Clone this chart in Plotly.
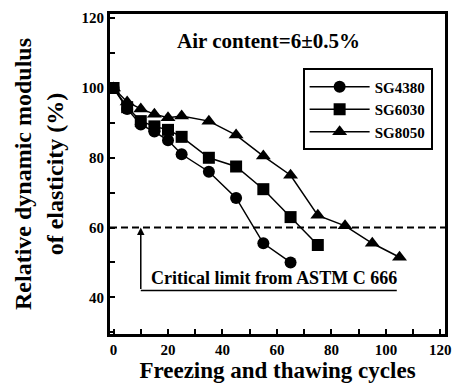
import plotly.graph_objects as go

# Freeze-thaw durability of air-entrained concrete
cycles_4380 = [0, 5, 10, 15, 20, 25, 35, 45, 55, 65]
modulus_4380 = [100, 94, 89.5, 87.5, 85, 81, 76, 68.5, 55.5, 50]

cycles_6030 = [0, 5, 10, 15, 20, 25, 35, 45, 55, 65, 75]
modulus_6030 = [100, 94.5, 90.5, 89, 88, 86, 80, 77.5, 71, 63, 55]

cycles_8050 = [0, 5, 10, 15, 20, 25, 35, 45, 55, 65, 75, 85, 95, 105]
modulus_8050 = [100, 96, 94, 92.5, 91.5, 92, 90.5, 86.5, 80.5, 75, 63.5, 60.5, 55.5, 51.5]

critical_limit = 60
x_ticks = [0, 20, 40, 60, 80, 100, 120]
y_ticks = [40, 60, 80, 100, 120]

SERIF = "Liberation Serif"

fig = go.Figure()

series = [
    ("SG4380", cycles_4380, modulus_4380, "circle", 12),
    ("SG6030", cycles_6030, modulus_6030, "square", 12),
    ("SG8050", cycles_8050, modulus_8050, "triangle-up", 13),
]
for name, xs, ys, sym, size in series:
    fig.add_trace(go.Scatter(
        x=xs, y=ys, name=f"<b>{name}</b>", mode="lines+markers",
        line=dict(color="black", width=1.5),
        marker=dict(symbol=sym, size=size, color="black"),
    ))

# Critical limit (dashed) across the whole plot
fig.add_shape(type="line", xref="paper", yref="y", x0=0, x1=1,
              y0=critical_limit, y1=critical_limit,
              line=dict(color="black", width=2, dash="7px,4px"))

# Bracket with arrow pointing to the critical limit
fig.add_shape(type="line", xref="x", yref="y", x0=10, x1=104, y0=42, y1=42,
              line=dict(color="black", width=1.5))
fig.add_annotation(x=10, y=critical_limit, ax=10, ay=42, xref="x", yref="y",
                   axref="x", ayref="y", showarrow=True, arrowhead=2,
                   arrowsize=1, arrowwidth=1.5, arrowcolor="black", text="")
fig.add_annotation(x=59, y=42.2, xref="x", yref="y", yanchor="bottom",
                   text="<b>Critical limit from ASTM C 666</b>", showarrow=False,
                   font=dict(family=SERIF, size=18, color="black"))

fig.add_annotation(x=57, y=113.5, xref="x", yref="y",
                   text="<b>Air content=6±0.5%</b>", showarrow=False,
                   font=dict(family=SERIF, size=21, color="black"))

axis_common = dict(
    showline=True, linewidth=3, linecolor="black", mirror=True,
    ticks="inside", ticklen=5, tickwidth=2, tickcolor="black",
    showgrid=False, zeroline=False,
    tickfont=dict(family=SERIF, size=15, color="black", weight="bold"),
)

fig.update_xaxes(
    range=[-1.3, 121.7], tickvals=x_ticks, ticktext=[f"<b>{v}</b>" for v in x_ticks],
    minor=dict(dtick=10, tick0=0, ticks="inside", ticklen=5, tickwidth=2, tickcolor="black"),
    title=dict(text="<b>Freezing and thawing cycles</b>",
               font=dict(family=SERIF, size=23, color="black"), standoff=4),
    **axis_common,
)
fig.update_yaxes(
    range=[29.5, 121.2], tickvals=y_ticks, ticktext=[f"<b>{v}</b>" for v in y_ticks],
    minor=dict(dtick=10, tick0=0, ticks="inside", ticklen=5, tickwidth=2, tickcolor="black"),
    title=dict(text="<b>Relative dynamic modulus<br>of elasticity (%)</b>",
               font=dict(family=SERIF, size=24, color="black"), standoff=12),
    **axis_common,
)

fig.update_layout(
    width=462, height=389,
    margin=dict(l=110, r=17, t=10, b=55),
    plot_bgcolor="white", paper_bgcolor="white",
    showlegend=True,
    legend=dict(x=0.575, y=0.83, xanchor="left", yanchor="top",
                bgcolor="white", bordercolor="black", borderwidth=2,
                font=dict(family=SERIF, size=15, color="black", weight="bold"),
                itemwidth=60, tracegroupgap=0),
)

fig.write_html("out.html")
